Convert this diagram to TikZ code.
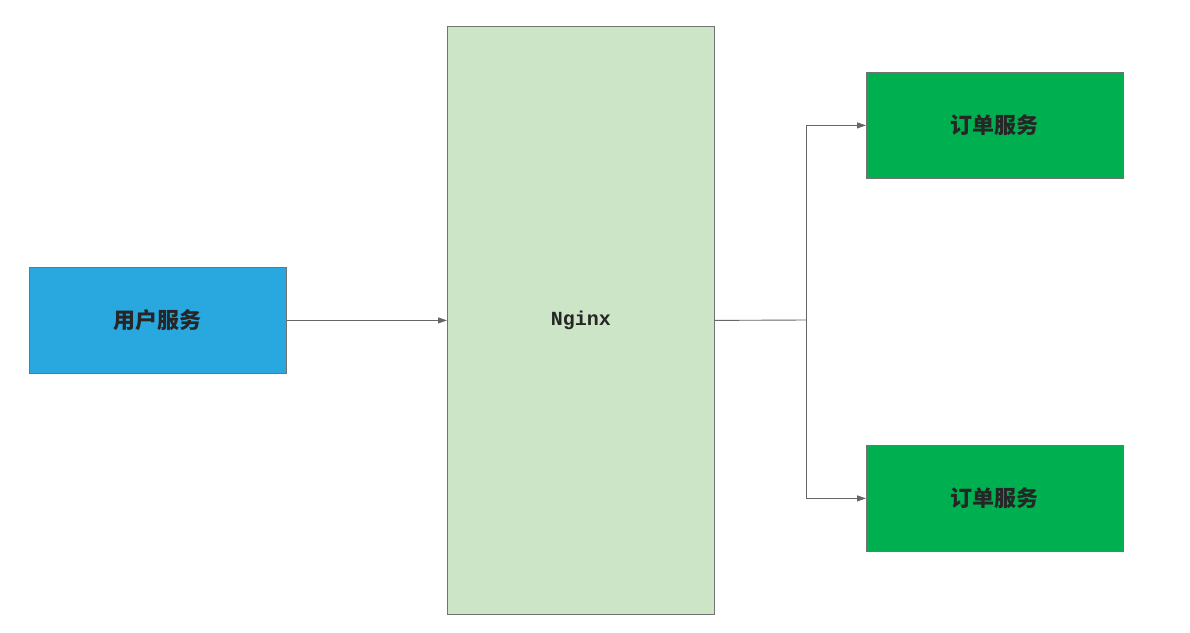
\documentclass[tikz,border=0pt]{standalone}
\usepackage{fontspec}
\newfontfamily\cjk{Noto Sans CJK SC}
\newfontfamily\mono{Liberation Mono}
\usetikzlibrary{arrows.meta}
\begin{document}
\begin{tikzpicture}[x=1pt,y=-1pt,
  box/.style={draw=black!55,line width=0.8pt,inner sep=0pt,anchor=north west},
  lbl/.style={font=\cjk\fontsize{22}{26}\selectfont\bfseries,text=black!85},
  arr/.style={draw=black!60,line width=0.9pt,-{Triangle[length=9pt,width=6pt]}}]
\useasboundingbox (0,0) rectangle (1190,632);
\fill[white] (0,0) rectangle (1190,632);
\definecolor{ublue}{HTML}{29A8E0}
\definecolor{ngreen}{HTML}{CDE5C7}
\definecolor{ogreen}{HTML}{00AF50}
\node[box,fill=ublue,minimum width=257pt,minimum height=106pt,lbl] (u) at (29,267) {用户服务};
\node[box,fill=ngreen,minimum width=267pt,minimum height=588pt,font=\mono\fontsize{20}{24}\selectfont\bfseries,text=black!85] (n) at (447,26) {Nginx};
\node[box,fill=ogreen,minimum width=257pt,minimum height=106pt,lbl] (o1) at (866,72) {订单服务};
\node[box,fill=ogreen,minimum width=257pt,minimum height=106pt,lbl] (o2) at (866,445) {订单服务};
\coordinate (j) at (806,320);
\draw[arr] (u.east) -- (n.west);
\draw[draw=black!60,line width=0.9pt] (n.east) -- (j);
\draw[arr] (j) |- (o1.west);
\draw[arr] (j) |- (o2.west);
\end{tikzpicture}
\end{document}
